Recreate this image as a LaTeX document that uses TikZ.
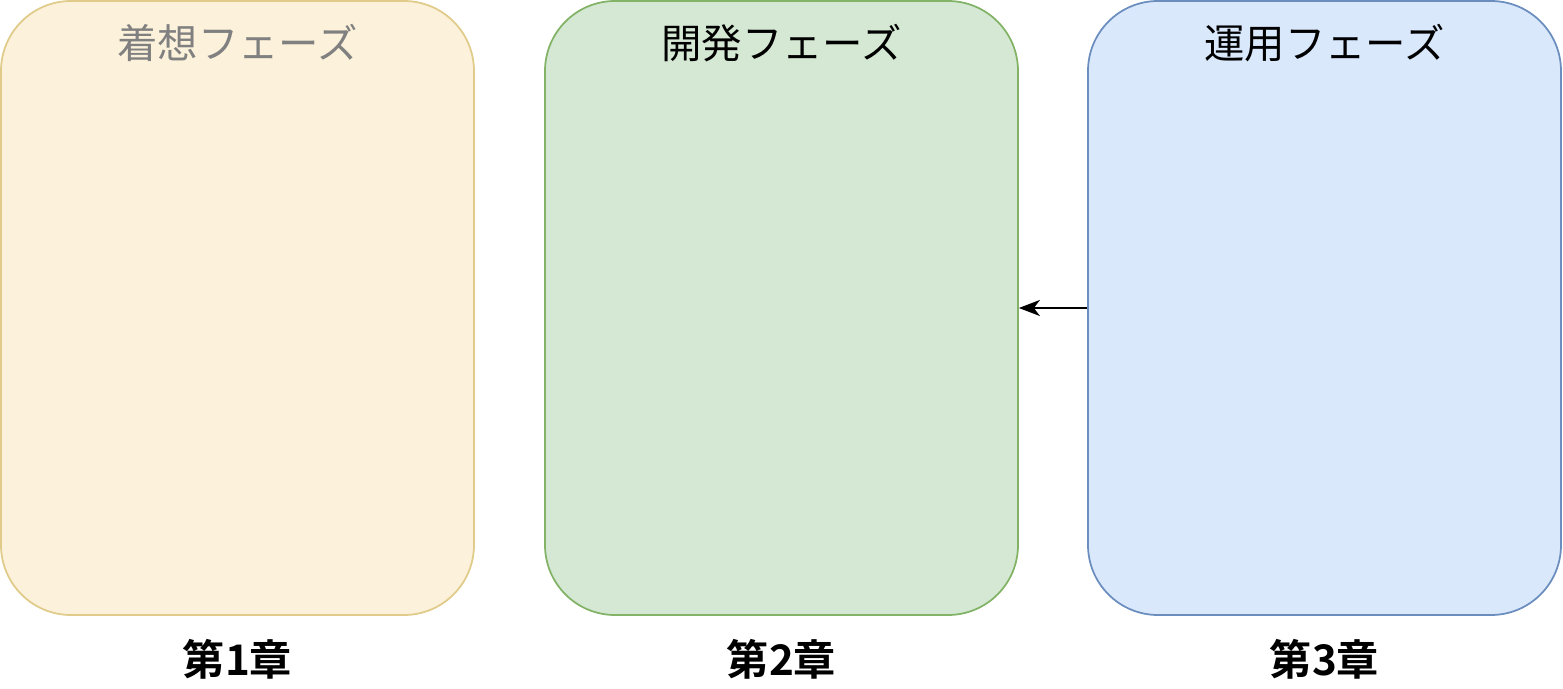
\documentclass[tikz,border=0pt]{standalone}
\usepackage{fontspec}
\setmainfont{Noto Sans CJK JP}[BoldFont={* Bold}]
\usetikzlibrary{positioning,arrows.meta}
\definecolor{yfill}{HTML}{FCF1DA}\definecolor{ydraw}{HTML}{E0CB8A}
\definecolor{gfill}{HTML}{D5E8D4}\definecolor{gdraw}{HTML}{82B366}
\definecolor{bfill}{HTML}{DAE8FC}\definecolor{bdraw}{HTML}{6C8EBF}
\tikzset{
  phase/.style={draw=#1draw, fill=#1fill, line width=1pt, rounded corners=1.4cm,
    minimum width=9.46cm, minimum height=12.28cm, inner sep=0pt},
  title/.style={font=\fontsize{23}{27}\selectfont},
  chap/.style={font=\fontsize{24}{28}\selectfont\bfseries}
}
\begin{document}
\begin{tikzpicture}
  \useasboundingbox (0,0) rectangle (31.26,13.76);
  \node[phase=y] (idea) at (4.75,7.6) {};
  \node[phase=g] (dev) at (15.63,7.6) {};
  \node[phase=b] (ops) at (26.49,7.6) {};
  \node[title, text=gray, below=0.35cm of idea.north] (ideaT) {着想フェーズ};
  \node[title, below=0.35cm of dev.north] (devT) {開発フェーズ};
  \node[title, below=0.35cm of ops.north] (opsT) {運用フェーズ};
  \node[chap, below=0.35cm of idea.south] (c1) {第1章};
  \node[chap, below=0.35cm of dev.south] (c2) {第2章};
  \node[chap, below=0.35cm of ops.south] (c3) {第3章};
  \draw[-{Stealth[length=0.42cm,width=0.32cm,inset=0.12cm]}, line width=1pt] (ops.west) -- (dev.east);
\end{tikzpicture}
\end{document}
